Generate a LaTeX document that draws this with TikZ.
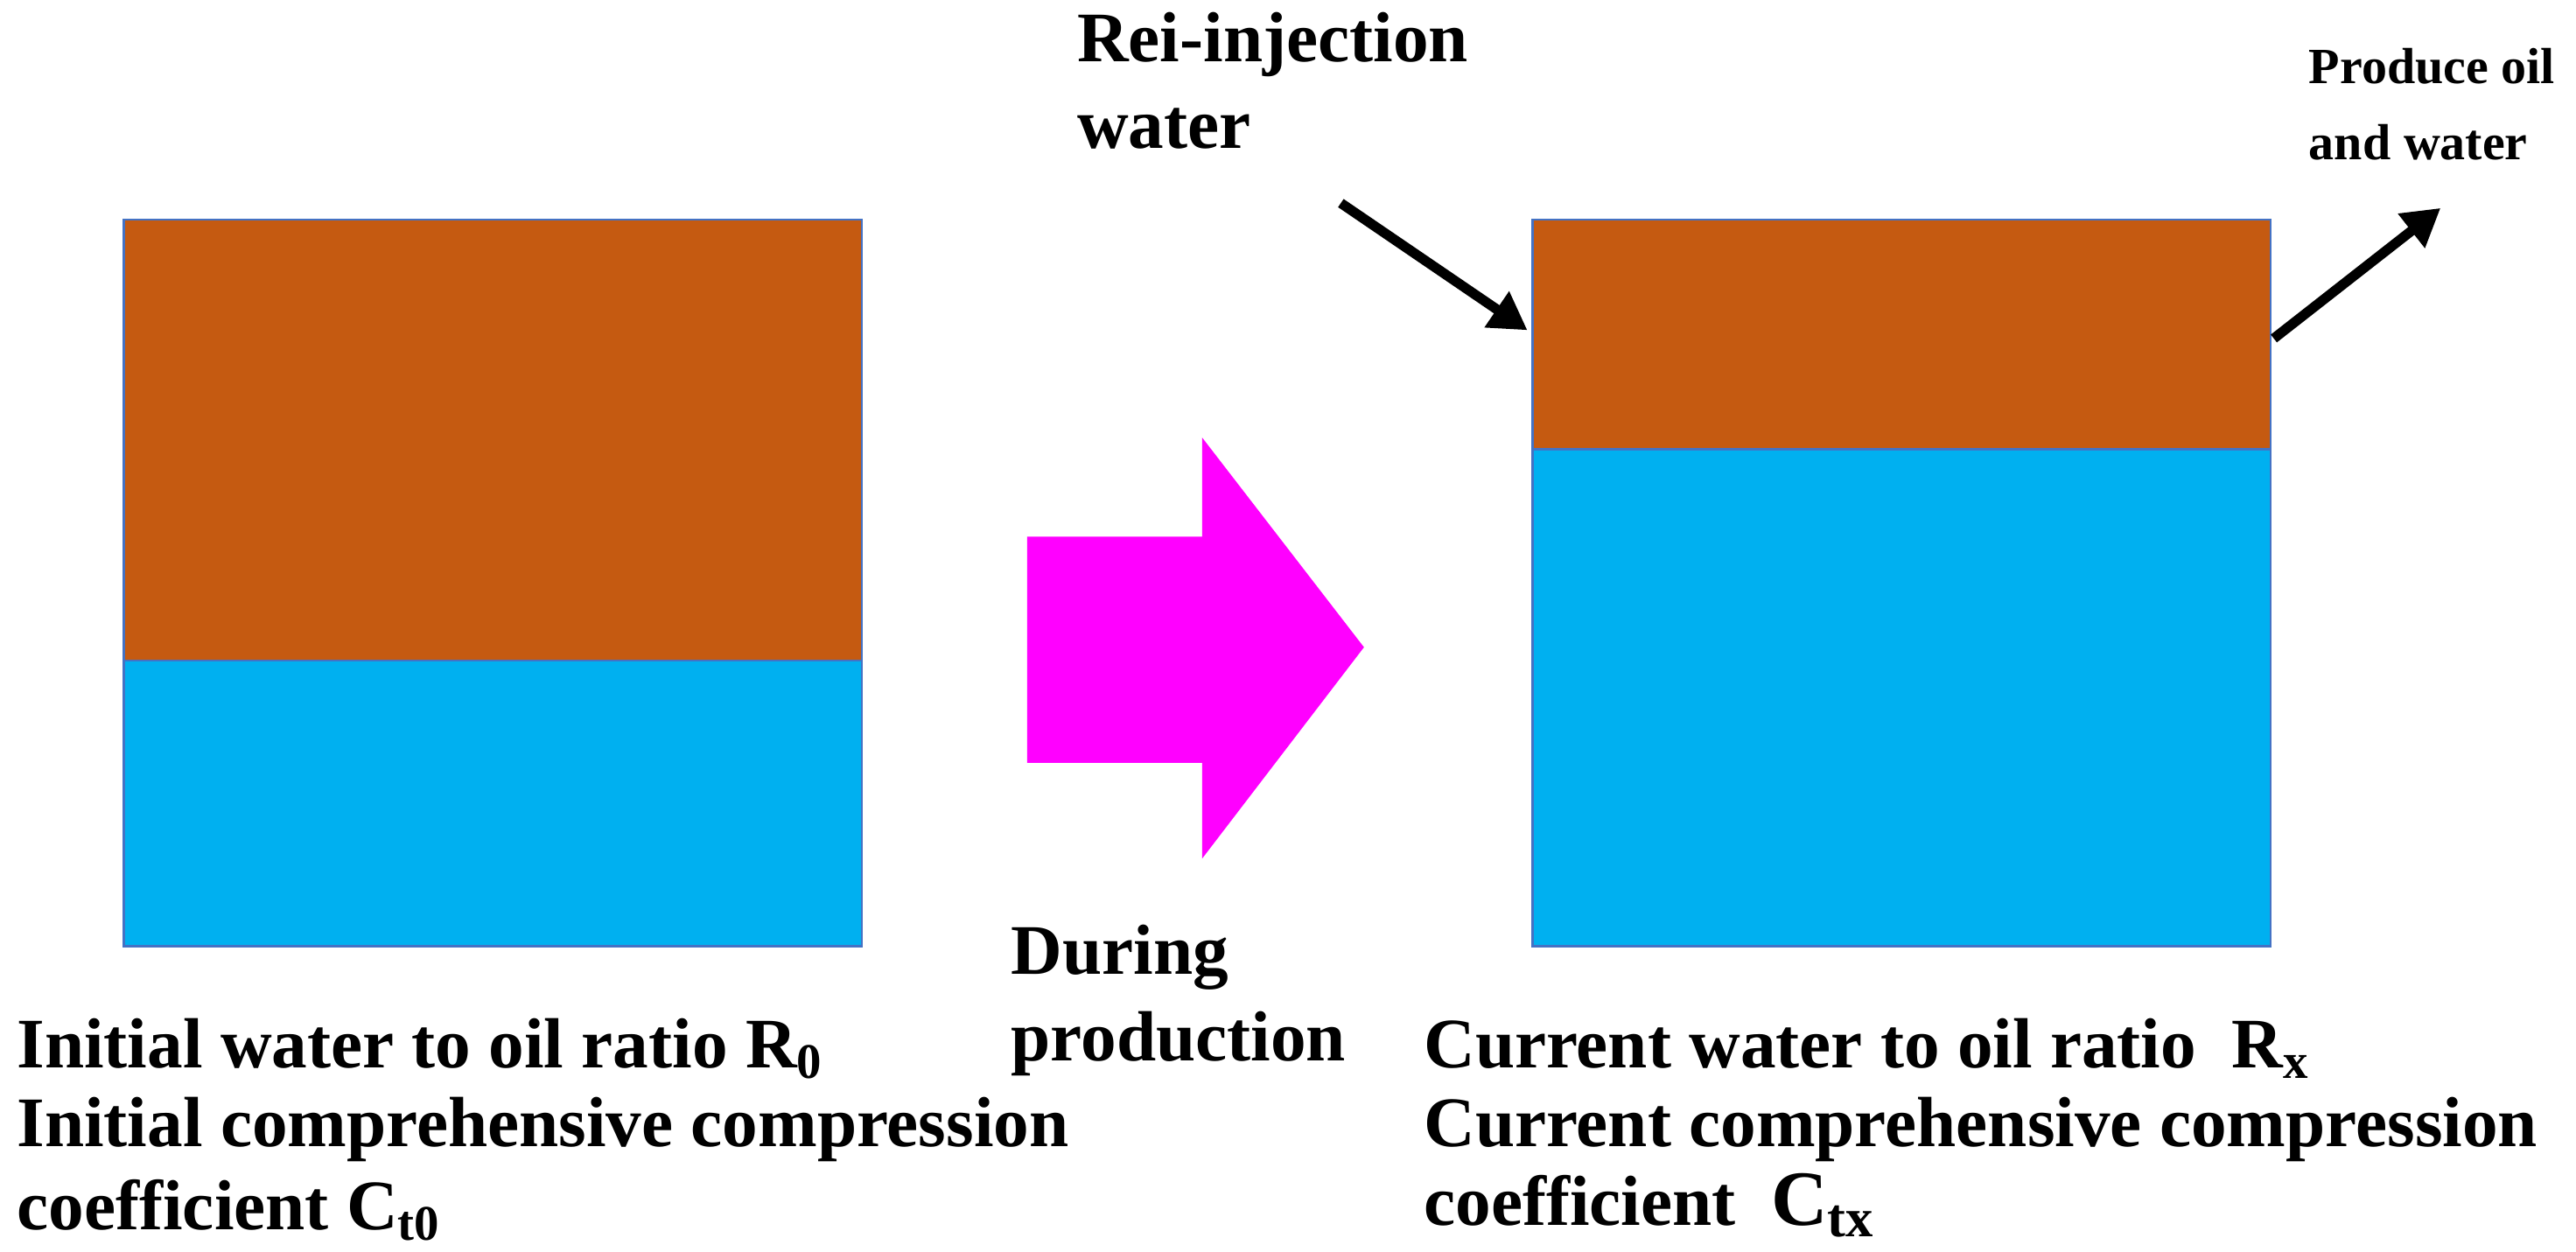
\documentclass[tikz,border=0pt]{standalone}
\usepackage{fontspec}
\setmainfont{Liberation Serif}
\usetikzlibrary{arrows.meta}
\definecolor{oil}{HTML}{C55A11}
\definecolor{wat}{HTML}{00B0F0}
\definecolor{edge}{HTML}{4472C4}
\definecolor{pink}{HTML}{FF00FF}
\begin{document}
\begin{tikzpicture}[x=0.02cm,y=-0.02cm,
 lab/.style={font=\fontsize{24.5}{28}\selectfont\bfseries,anchor=west,inner sep=0pt},
 small/.style={font=\fontsize{17.5}{20}\selectfont\bfseries,anchor=west,inner sep=0pt},
 flow/.style={line width=0.12cm,-{Triangle[length=0.45cm,width=0.5cm]}},
 box/.style={draw=edge,line width=0.8pt}]
\useasboundingbox (0,0) rectangle (1560,758);
\fill[oil] (75,133) rectangle (522,400);
\fill[wat] (75,400) rectangle (522,573);
\draw[box] (75,133) rectangle (522,573) (75,400) -- (522,400);
\fill[oil] (928,133) rectangle (1375,272);
\fill[wat] (928,272) rectangle (1375,573);
\draw[box] (928,133) rectangle (1375,573) (928,272) -- (1375,272);
\fill[pink] (622,325) -- (728,325) -- (728,265) -- (826,392) -- (728,520) -- (728,462) -- (622,462) -- cycle;
\node[lab] (d1) at (612,580) {During};
\node[lab] (d2) at (612,632) {production};
\coordinate (a1) at (812,123); \coordinate (a1e) at (925,200);
\draw[flow] (a1) -- (a1e);
\coordinate (a2) at (1377,205); \coordinate (a2e) at (1478,126);
\draw[flow] (a2) -- (a2e);
\node[lab] (r1) at (652,27) {Rei-injection};
\node[lab] (r2) at (652,78) {water};
\node[small] (p1) at (1398,40) {Produce oil};
\node[small] (p2) at (1398,86) {and water};
\node[lab] (l1) at (10,635) {Initial water to oil ratio R\textsubscript{0}};
\node[lab] (l2) at (10,684) {Initial comprehensive compression};
\node[lab] (l3) at (10,733) {coefficient C\textsubscript{t0}};
\node[lab] (c1) at (862,635) {Current water to oil ratio\ \ R\textsubscript{x}};
\node[lab] (c2) at (862,684) {Current comprehensive compression};
\node[lab] (c3) at (862,730) {coefficient\ \ {\fontsize{27}{30}\selectfont C\textsubscript{tx}}};
\end{tikzpicture}
\end{document}
